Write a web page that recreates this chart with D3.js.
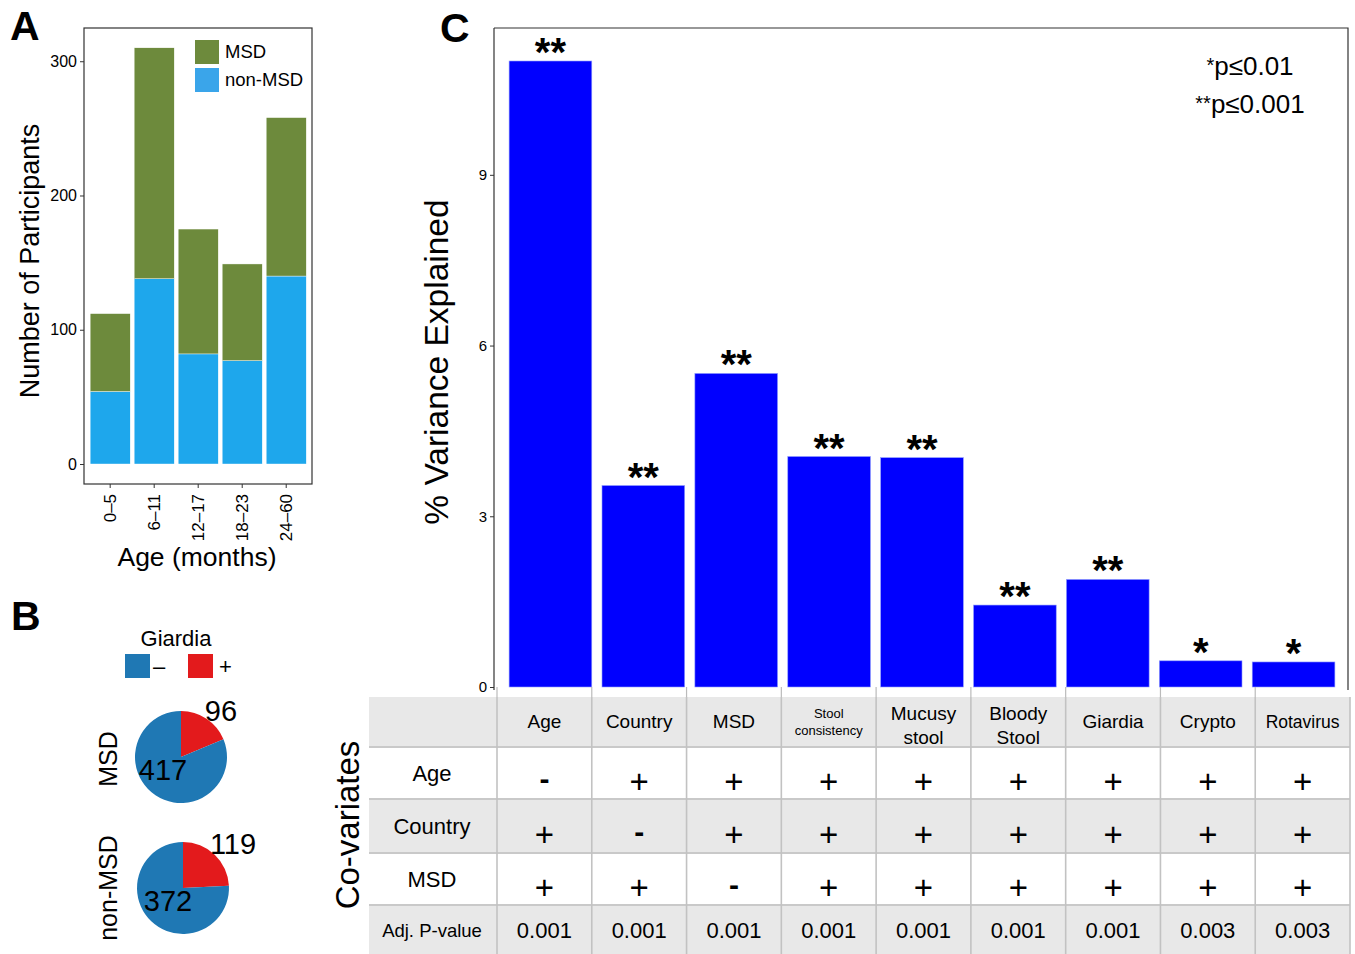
<!DOCTYPE html>
<html><head><meta charset="utf-8">
<script src="https://cdn.jsdelivr.net/npm/d3@7"></script>
<style>
body{margin:0;background:#fff;}
text{font-family:"Liberation Sans",Arial,Helvetica,sans-serif;fill:#000;}
</style></head>
<body>
<svg id="c" width="1355" height="954"></svg>
<script>
// ---------- DATA ----------
const ageGroups = ["0–5","6–11","12–17","18–23","24–60"];
const nonMSDCounts = [54,138,82,77,140];
const msdCounts = [58,172,93,72,118];
const ageTicks = [0,100,200,300];

const pieGroups = ["MSD","non-MSD"];
const giardiaNeg = [417,372];
const giardiaPos = [96,119];

const covCategories = ["Age","Country","MSD","Stool consistency","Mucusy stool","Bloody Stool","Giardia","Crypto","Rotavirus"];
const headerLabels = [["Age"],["Country"],["MSD"],["Stool","consistency"],["Mucusy","stool"],["Bloody","Stool"],["Giardia"],["Crypto"],["Rotavirus"]];
const varianceExplained = [11.0,3.54,5.51,4.05,4.03,1.44,1.89,0.46,0.44];
const significance = ["**","**","**","**","**","**","**","*","*"];
const varTicks = [0,3,6,9];
const covRowNames = ["Age","Country","MSD"];
const covAge     = ["-","+","+","+","+","+","+","+","+"];
const covCountry = ["+","-","+","+","+","+","+","+","+"];
const covMSD     = ["+","+","-","+","+","+","+","+","+"];
const adjP = ["0.001","0.001","0.001","0.001","0.001","0.001","0.001","0.003","0.003"];

// ---------- SETUP ----------
const svg = d3.select("#c");
const colMSD = "#6d8a3c", colNon = "#1ea7ec";
const axisCol = "#333";

// Panel labels
[["A",10,40],["B",11,630],["C",440,42]].forEach(([t,x,y])=>{
  svg.append("text").attr("x",x).attr("y",y).attr("font-size",41).attr("font-weight","bold").text(t);
});

// ---------- PANEL A ----------
{
  const x = d3.scaleBand().domain(ageGroups).range([84,312.4]).paddingInner(0.09).paddingOuter(0.14);
  const y = d3.scaleLinear().domain([0,325.5]).range([464,27]);
  const g = svg.append("g");
  g.append("rect").attr("x",84).attr("y",28).attr("width",228).attr("height",456)
   .attr("fill","none").attr("stroke",axisCol).attr("stroke-width",1.2);
  const data = ageGroups.map((a,i)=>({a, non:nonMSDCounts[i], msd:msdCounts[i]}));
  g.selectAll(".nb").data(data).join("rect")
    .attr("x",d=>x(d.a)).attr("width",x.bandwidth())
    .attr("y",d=>y(d.non)).attr("height",d=>y(0)-y(d.non))
    .attr("fill",colNon).attr("stroke","#fff").attr("stroke-width",0.4);
  g.selectAll(".mb").data(data).join("rect")
    .attr("x",d=>x(d.a)).attr("width",x.bandwidth())
    .attr("y",d=>y(d.non+d.msd)).attr("height",d=>y(d.non)-y(d.non+d.msd))
    .attr("fill",colMSD).attr("stroke","#fff").attr("stroke-width",0.4);
  const ya = g.append("g").attr("transform","translate(84,0)")
    .call(d3.axisLeft(y).tickValues(ageTicks).tickSize(4).tickPadding(3));
  ya.select(".domain").remove();
  ya.selectAll("line").attr("stroke",axisCol);
  ya.selectAll("text").attr("font-size",16).attr("fill","#222").attr("font-family","Liberation Sans, Arial, sans-serif");
  const xa = g.append("g").attr("transform","translate(0,484)")
    .call(d3.axisBottom(x).tickSize(4).tickPadding(3));
  xa.select(".domain").remove();
  xa.selectAll("line").attr("stroke",axisCol);
  xa.selectAll("text").attr("font-size",17).attr("fill","#222").attr("font-family","Liberation Sans, Arial, sans-serif")
    .attr("transform","rotate(-90)").attr("text-anchor","end").attr("dx","-0.35em").attr("dy","0.35em").attr("x",-4).attr("y",0);
  g.append("text").attr("transform","translate(39,261) rotate(-90)").attr("text-anchor","middle")
    .attr("font-size",27).text("Number of Participants");
  g.append("text").attr("x",197).attr("y",566).attr("text-anchor","middle").attr("font-size",26.5).text("Age (months)");
  [["MSD",colMSD,40],["non-MSD","#3aa5ea",68]].forEach(([t,c,yy])=>{
    g.append("rect").attr("x",195).attr("y",yy).attr("width",24).attr("height",24).attr("fill",c);
    g.append("text").attr("x",225).attr("y",yy+18).attr("font-size",18.5).text(t);
  });
}

// ---------- PANEL B ----------
{
  const g = svg.append("g");
  g.append("text").attr("x",176).attr("y",646).attr("text-anchor","middle").attr("font-size",22).text("Giardia");
  g.append("rect").attr("x",125).attr("y",654).attr("width",25).attr("height",24).attr("fill","#1f78b4");
  g.append("text").attr("x",153).attr("y",674).attr("font-size",22).text("–");
  g.append("rect").attr("x",188).attr("y",654).attr("width",25).attr("height",24).attr("fill","#e31a1c");
  g.append("text").attr("x",219).attr("y",674).attr("font-size",22).text("+");
  const pie = d3.pie().sort(null).value(d=>d.v);
  const arc = d3.arc().innerRadius(0).outerRadius(46);
  const centers = [[181,757],[183,888]];
  const labelPos = [[[221,721],[163,780]],[[233,854],[168,911]]];
  pieGroups.forEach((grp,i)=>{
    const pg = g.append("g").attr("transform",`translate(${centers[i][0]},${centers[i][1]})`);
    const arcs = pie([{k:"+",v:giardiaPos[i]},{k:"-",v:giardiaNeg[i]}]);
    pg.selectAll("path").data(arcs).join("path").attr("d",arc)
      .attr("fill",d=>d.data.k==="+"?"#e31a1c":"#1f78b4");
    g.append("text").attr("x",labelPos[i][0][0]).attr("y",labelPos[i][0][1]).attr("text-anchor","middle").attr("font-size",29).text(giardiaPos[i]);
    g.append("text").attr("x",labelPos[i][1][0]).attr("y",labelPos[i][1][1]).attr("text-anchor","middle").attr("font-size",29).text(giardiaNeg[i]);
    g.append("text").attr("transform",`translate(${117},${centers[i][1]+ (i===0?2:0)}) rotate(-90)`)
      .attr("text-anchor","middle").attr("font-size",25).text(grp);
  });
}

// ---------- PANEL C ----------
{
  const g = svg.append("g");
  const x = d3.scaleBand().domain(covCategories).range([504,1340]).paddingInner(0.11).paddingOuter(0.055);
  const y = d3.scaleLinear().domain([0,11.58]).range([687,28]);
  const data = covCategories.map((c,i)=>({c, v:varianceExplained[i], s:significance[i]}));
  g.append("path").attr("d","M494,28H1348V690").attr("fill","none").attr("stroke",axisCol).attr("stroke-width",1.2);
  g.append("line").attr("x1",494).attr("x2",494).attr("y1",28).attr("y2",690).attr("stroke",axisCol).attr("stroke-width",1.2);
  g.selectAll(".vb").data(data).join("rect")
    .attr("x",d=>x(d.c)).attr("width",x.bandwidth())
    .attr("y",d=>y(d.v)).attr("height",d=>y(0)-y(d.v))
    .attr("fill","#0000ff").attr("stroke","#8f9cff").attr("stroke-width",0.6);
  g.selectAll(".st").data(data).join("text")
    .attr("x",d=>x(d.c)+x.bandwidth()/2).attr("y",d=>y(d.v)+5)
    .attr("text-anchor","middle").attr("font-size",40).attr("font-weight","bold").text(d=>d.s);
  const ya = g.append("g").attr("transform","translate(494,0)")
    .call(d3.axisLeft(y).tickValues(varTicks).tickSize(4).tickPadding(3));
  ya.select(".domain").remove();
  ya.selectAll("line").attr("stroke",axisCol);
  ya.selectAll("text").attr("font-size",15).attr("fill","#222").attr("font-family","Liberation Sans, Arial, sans-serif");
  g.append("text").attr("transform","translate(448,362) rotate(-90)").attr("text-anchor","middle")
    .attr("font-size",33.5).text("% Variance Explained");
  const lg = g.append("text").attr("x",1250).attr("y",75).attr("text-anchor","middle").attr("font-size",26);
  lg.append("tspan").attr("font-size",20).attr("dy",-3).text("*");
  lg.append("tspan").attr("dy",3).text("p≤0.01");
  const lg2 = g.append("text").attr("x",1250).attr("y",113).attr("text-anchor","middle").attr("font-size",26);
  lg2.append("tspan").attr("font-size",20).attr("dy",-3).text("**");
  lg2.append("tspan").attr("dy",3).text("p≤0.001");

  // ---------- TABLE ----------
  const tx = d3.scaleBand().domain(covCategories).range([497,1350]);
  const rowsY = [697,747,799,853,905,954];
  const bg = ["#e8e8e8","#ffffff","#e8e8e8","#ffffff","#e8e8e8"];
  const tg = svg.append("g");
  bg.forEach((c,r)=>{
    tg.append("rect").attr("x",369).attr("y",rowsY[r]).attr("width",1350-369).attr("height",rowsY[r+1]-rowsY[r]).attr("fill",c);
  });
  rowsY.slice(1,5).forEach(yy=>{
    tg.append("line").attr("x1",369).attr("x2",1350).attr("y1",yy).attr("y2",yy).attr("stroke","#c9c9c9").attr("stroke-width",2);
  });
  const vx = [497].concat(covCategories.map(c=>tx(c)+tx.bandwidth()));
  vx.forEach(xx=>{
    tg.append("line").attr("x1",xx).attr("x2",xx).attr("y1",rowsY[0]).attr("y2",954).attr("stroke","#c2c2c2").attr("stroke-width",1.6);
  });
  vx.slice(0,-1).forEach(xx=>{
    tg.append("line").attr("x1",xx).attr("x2",xx).attr("y1",687).attr("y2",697).attr("stroke","#bbb").attr("stroke-width",1.2);
  });
  headerLabels.forEach((lines,i)=>{
    const cx = tx(covCategories[i])+tx.bandwidth()/2;
    const small = covCategories[i]==="Stool consistency";
    const fs = small?13:(covCategories[i]==="Rotavirus"?17.5:19);
    if(lines.length===1){
      tg.append("text").attr("x",cx).attr("y",728).attr("text-anchor","middle").attr("font-size",fs).text(lines[0]);
    } else if(small){
      tg.append("text").attr("x",cx).attr("y",718).attr("text-anchor","middle").attr("font-size",fs).text(lines[0]);
      tg.append("text").attr("x",cx).attr("y",735).attr("text-anchor","middle").attr("font-size",fs).text(lines[1]);
    } else {
      tg.append("text").attr("x",cx).attr("y",720).attr("text-anchor","middle").attr("font-size",fs).text(lines[0]);
      tg.append("text").attr("x",cx).attr("y",744).attr("text-anchor","middle").attr("font-size",fs).text(lines[1]);
    }
  });
  const covMatrix = [covAge,covCountry,covMSD];
  covRowNames.forEach((name,r)=>{
    const y0 = rowsY[r+1], y1 = rowsY[r+2];
    const cy = (y0+y1)/2;
    tg.append("text").attr("x",432).attr("y",cy+8).attr("text-anchor","middle").attr("font-size",22).text(name);
    covMatrix[r].forEach((s,i)=>{
      const cx = tx(covCategories[i])+tx.bandwidth()/2;
      if(s==="+"){
        tg.append("text").attr("x",cx).attr("y",cy+20).attr("text-anchor","middle").attr("font-size",33).text("+");
      } else {
        tg.append("text").attr("x",cx).attr("y",cy+16).attr("text-anchor","middle").attr("font-size",30).attr("font-weight","bold").text("-");
      }
    });
  });
  tg.append("text").attr("x",432).attr("y",937).attr("text-anchor","middle").attr("font-size",18.5).text("Adj. P-value");
  adjP.forEach((p,i)=>{
    const cx = tx(covCategories[i])+tx.bandwidth()/2;
    tg.append("text").attr("x",cx).attr("y",938).attr("text-anchor","middle").attr("font-size",22).text(p);
  });
  tg.append("text").attr("transform","translate(359,825) rotate(-90)").attr("text-anchor","middle")
    .attr("font-size",33).text("Co-variates");
}
</script>
</body></html>
